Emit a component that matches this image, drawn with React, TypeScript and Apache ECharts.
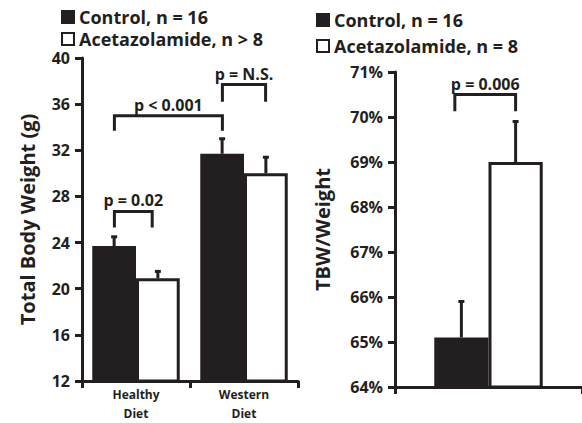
import React, { useEffect, useRef } from "react";
import * as echarts from "echarts";

const INK = "#231f20";
const FONT = "Open Sans";

// Left panel: total body weight (g)
const leftCategories = ["Healthy\nDiet", "Western\nDiet"];
const leftControl = [23.7, 31.7];
const leftControlErr = [24.5, 33.0];
const leftAcet = [20.9, 30.0];
const leftAcetErr = [21.5, 31.4];
const leftTicks = { min: 12, max: 40, interval: 4 };

// Right panel: TBW / Weight (%)
const rightCategories = [""];
const rightControl = [65.1];
const rightControlErr = [65.9];
const rightAcet = [69.0];
const rightAcetErr = [69.9];
const rightTicks = { min: 64, max: 71, interval: 1 };

// Significance brackets: [catFrom, fracFrom, catTo, fracTo, top, legBottom, labelIndex]
const leftLabels = ["p = 0.02", "p < 0.001", "p = N.S."];
const leftBrackets = [
  [0, -0.2, 0, 0.15, 26.7, 25.3, 0],
  [0, -0.2, 1, -0.2, 35.0, 33.7, 1],
  [1, -0.2, 1, 0.2, 37.7, 36.2, 2],
];
const rightLabels = ["p = 0.006"];
const rightBrackets = [[0, -0.18, 0, 0.145, 70.5, 70.13, 0]];

const LEFT_GAP = 0.19;
const RIGHT_GAP = 0.42;

function errorRenderer(frac: number) {
  return (params: any, api: any) => {
    const cat = api.value(0);
    const lo = api.value(1);
    const hi = api.value(2);
    const grp = api.value(3);
    const band = api.size([1, 0])[0];
    const base = api.coord([cat, lo]);
    const top = api.coord([cat, hi]);
    const x = base[0] + (grp === 0 ? -1 : 1) * band * frac;
    return {
      type: "group",
      children: [
        { type: "line", shape: { x1: x, y1: base[1], x2: x, y2: top[1] }, style: { stroke: INK, lineWidth: 3 } },
        { type: "line", shape: { x1: x - 3, y1: top[1], x2: x + 3, y2: top[1] }, style: { stroke: INK, lineWidth: 3 } },
      ],
    };
  };
}

function bracketRenderer(labels: string[]) {
  return (params: any, api: any) => {
    const band = api.size([1, 0])[0];
    const a = api.coord([api.value(0), api.value(4)]);
    const b = api.coord([api.value(2), api.value(4)]);
    const xa = a[0] + api.value(1) * band;
    const xb = b[0] + api.value(3) * band;
    const yTop = a[1];
    const yLeg = api.coord([api.value(0), api.value(5)])[1];
    return {
      type: "group",
      children: [
        {
          type: "polyline",
          shape: { points: [[xa, yLeg], [xa, yTop], [xb, yTop], [xb, yLeg]] },
          style: { stroke: INK, lineWidth: 3, fill: null },
        },
        {
          type: "text",
          x: (xa + xb) / 2,
          y: yTop - 3,
          style: {
            text: labels[api.value(6)],
            fill: INK,
            font: `bold 16px "${FONT}"`,
            align: "center",
            verticalAlign: "bottom",
          },
        },
      ],
    };
  };
}

export default function App() {
  const ref = useRef<HTMLDivElement>(null);
  useEffect(() => {
    if (!ref.current) return;
    document.body.style.margin = "0";
    const chart = echarts.init(ref.current, null, { renderer: "svg" });
    const axisLine = { show: true, lineStyle: { color: INK, width: 3 } };
    const axisTick = { show: true, length: 7, lineStyle: { color: INK, width: 3 } };
    const barStyle = (fill: string) => ({ color: fill, borderColor: INK, borderWidth: 3 });
    const legendText = { fontFamily: FONT, fontWeight: "bold", fontSize: 18, lineHeight: 22, color: INK };
    chart.setOption({
      animation: false,
      textStyle: { fontFamily: FONT, color: INK },
      grid: [
        { left: 82, top: 58, width: 216, bottom: 38 },
        { left: 395, top: 72, right: -3, bottom: 36 },
      ],
      legend: [
        {
          orient: "vertical",
          left: 61,
          top: 6,
          padding: 0,
          itemGap: 0,
          itemWidth: 12,
          itemHeight: 12,
          icon: "rect",
          data: ["Control, n = 16", "Acetazolamide, n > 8"],
          textStyle: legendText,
        },
        {
          orient: "vertical",
          left: 316,
          top: 9,
          padding: 0,
          itemGap: 4,
          itemWidth: 12,
          itemHeight: 12,
          icon: "rect",
          data: ["Control, n = 16", "Acetazolamide, n = 8"],
          textStyle: legendText,
        },
      ],
      xAxis: [
        {
          type: "category",
          gridIndex: 0,
          data: leftCategories,
          axisLine,
          axisTick,
          axisLabel: { fontFamily: FONT, fontWeight: "bold", fontSize: 12, lineHeight: 19, color: INK, margin: 4, interval: 0 },
        },
        {
          type: "category",
          gridIndex: 1,
          data: rightCategories,
          axisLine,
          axisTick,
          axisLabel: { show: false },
        },
      ],
      yAxis: [
        {
          type: "value",
          gridIndex: 0,
          ...leftTicks,
          axisLine,
          axisTick,
          splitLine: { show: false },
          axisLabel: { fontFamily: FONT, fontWeight: "bold", fontSize: 16, color: INK, margin: 12 },
          name: "Total Body Weight (g)",
          nameLocation: "middle",
          nameGap: 45,
          nameTextStyle: { fontFamily: FONT, fontWeight: "bold", fontSize: 20, color: INK },
        },
        {
          type: "value",
          gridIndex: 1,
          ...rightTicks,
          axisLine,
          axisTick,
          splitLine: { show: false },
          axisLabel: { fontFamily: FONT, fontWeight: "bold", fontSize: 16, color: INK, margin: 12, formatter: "{value}%" },
          name: "TBW/Weight",
          nameLocation: "middle",
          nameGap: 63,
          nameTextStyle: { fontFamily: FONT, fontWeight: "bold", fontSize: 20, color: INK },
        },
      ],
      series: [
        {
          type: "bar",
          name: "Control, n = 16",
          xAxisIndex: 0,
          yAxisIndex: 0,
          data: leftControl,
          barGap: "0%",
          barCategoryGap: `${LEFT_GAP * 100}%`,
          itemStyle: barStyle(INK),
        },
        {
          type: "bar",
          name: "Acetazolamide, n > 8",
          xAxisIndex: 0,
          yAxisIndex: 0,
          data: leftAcet,
          barGap: "0%",
          barCategoryGap: `${LEFT_GAP * 100}%`,
          itemStyle: barStyle("#ffffff"),
        },
        {
          type: "bar",
          name: "Control, n = 16",
          xAxisIndex: 1,
          yAxisIndex: 1,
          data: rightControl,
          barGap: "0%",
          barCategoryGap: `${RIGHT_GAP * 100}%`,
          itemStyle: barStyle(INK),
        },
        {
          type: "bar",
          name: "Acetazolamide, n = 8",
          xAxisIndex: 1,
          yAxisIndex: 1,
          data: rightAcet,
          barGap: "0%",
          barCategoryGap: `${RIGHT_GAP * 100}%`,
          itemStyle: barStyle("#ffffff"),
        },
        {
          type: "custom",
          xAxisIndex: 0,
          yAxisIndex: 0,
          z: 3,
          renderItem: errorRenderer((1 - LEFT_GAP) / 4),
          data: [
            ...leftControl.map((v, i) => [i, v, leftControlErr[i], 0]),
            ...leftAcet.map((v, i) => [i, v, leftAcetErr[i], 1]),
          ],
        },
        {
          type: "custom",
          xAxisIndex: 1,
          yAxisIndex: 1,
          z: 3,
          renderItem: errorRenderer((1 - RIGHT_GAP) / 4),
          data: [
            ...rightControl.map((v, i) => [i, v, rightControlErr[i], 0]),
            ...rightAcet.map((v, i) => [i, v, rightAcetErr[i], 1]),
          ],
        },
        {
          type: "custom",
          xAxisIndex: 0,
          yAxisIndex: 0,
          z: 3,
          clip: false,
          renderItem: bracketRenderer(leftLabels),
          data: leftBrackets,
        },
        {
          type: "custom",
          xAxisIndex: 1,
          yAxisIndex: 1,
          z: 3,
          clip: false,
          renderItem: bracketRenderer(rightLabels),
          data: rightBrackets,
        },
      ],
    });
    return () => chart.dispose();
  }, []);
  return <div ref={ref} style={{ width: 582, height: 423 }} />;
}
